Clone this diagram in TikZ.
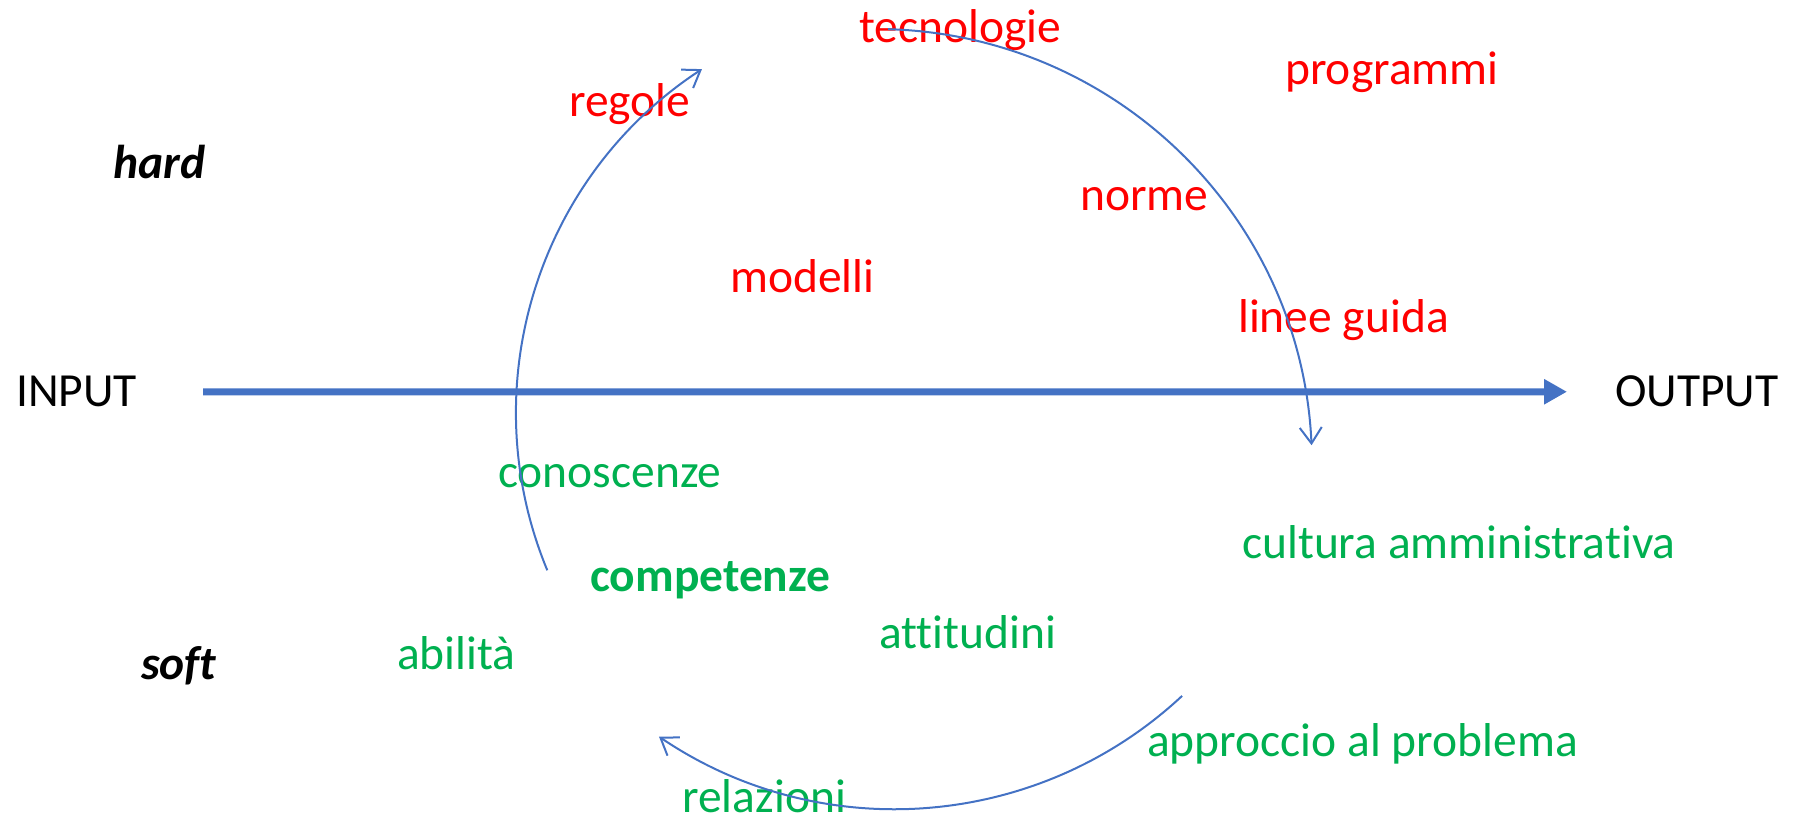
\documentclass[tikz,border=0pt]{standalone}
\usepackage{fontspec}
\setmainfont{Carlito}[Ligatures=NoCommon]
\usetikzlibrary{arrows.meta}

\definecolor{hardred}{HTML}{FF0000}
\definecolor{softgreen}{HTML}{00B050}
\definecolor{flowblue}{HTML}{4472C4}

\begin{document}
\begin{tikzpicture}[x=1pt, y=1pt,
    every node/.style={inner sep=0pt, anchor=base west,
      font=\fontsize{47.5}{56}\selectfont},
    hardword/.style={text=hardred},
    softword/.style={text=softgreen},
    sidelabel/.style={font=\fontsize{47.5}{56}\selectfont\bfseries\itshape},
    flow/.style={draw=flowblue, line width=7pt,
      -{Triangle[length=23pt,width=24pt]}},
    cyclearc/.style={draw=flowblue, line width=2pt,
      -{Straight Barb[length=16pt,width=22pt]}}]
      \useasboundingbox (0,0) rectangle (1797,817);

      % Ends of the flow
      \node (input) at (16,410) {INPUT};
      \node (output) at (1615,410) {OUTPUT};

      % Side labels
      \node[sidelabel] (hard) at (113,638) {hard};
      \node[sidelabel] (soft) at (141,137) {soft};

      % Words (hard)
      \node[hardword] (tecnologie) at (859,774) {tecnologie};
      \node[hardword] (programmi) at (1285,732) {programmi};
      \node[hardword] (regole) at (569,700) {regole};
      \node[hardword] (norme) at (1080,606) {norme};
      \node[hardword] (modelli) at (730,524) {modelli};
      \node[hardword] (linee) at (1238,484) {linee guida};

      % Words (soft)
      \node[softword] (conoscenze) at (498,329) {conoscenze};
      \node[softword] (cultura) at (1242,258) {cultura amministrativa};
      \node[softword, font=\fontsize{47.5}{56}\selectfont\bfseries]
        (competenze) at (590,225) {competenze};
      \node[softword] (attitudini) at (879,168) {attitudini};
      \node[softword] (abilita) at (397,147) {abilità};
      \node[softword] (approccio) at (1147,60) {approccio al problema};
      \node[softword] (relazioni) at (682,5) {relazioni};

      % Main arrow
      \draw[flow, shorten <=66pt, shorten >=48pt] (input.east) -- (output.west);

      % Arcs (cycle)
      \coordinate (upstart) at (547.3,246.7);
      \coordinate (downstart) at (888.2,787.8);
      \coordinate (backstart) at (1182.1,121.1);

      \draw[cyclearc] (upstart)
      arc[start angle=202.5, end angle=123.2, radius=411pt];

      \draw[cyclearc] (downstart)
      arc[start angle=88.4, end angle=2.6, radius=436pt];

      \draw[cyclearc] (backstart)
      arc[start angle=-47, end angle=-124.1, radius=421pt];
    \end{tikzpicture}
\end{document}
